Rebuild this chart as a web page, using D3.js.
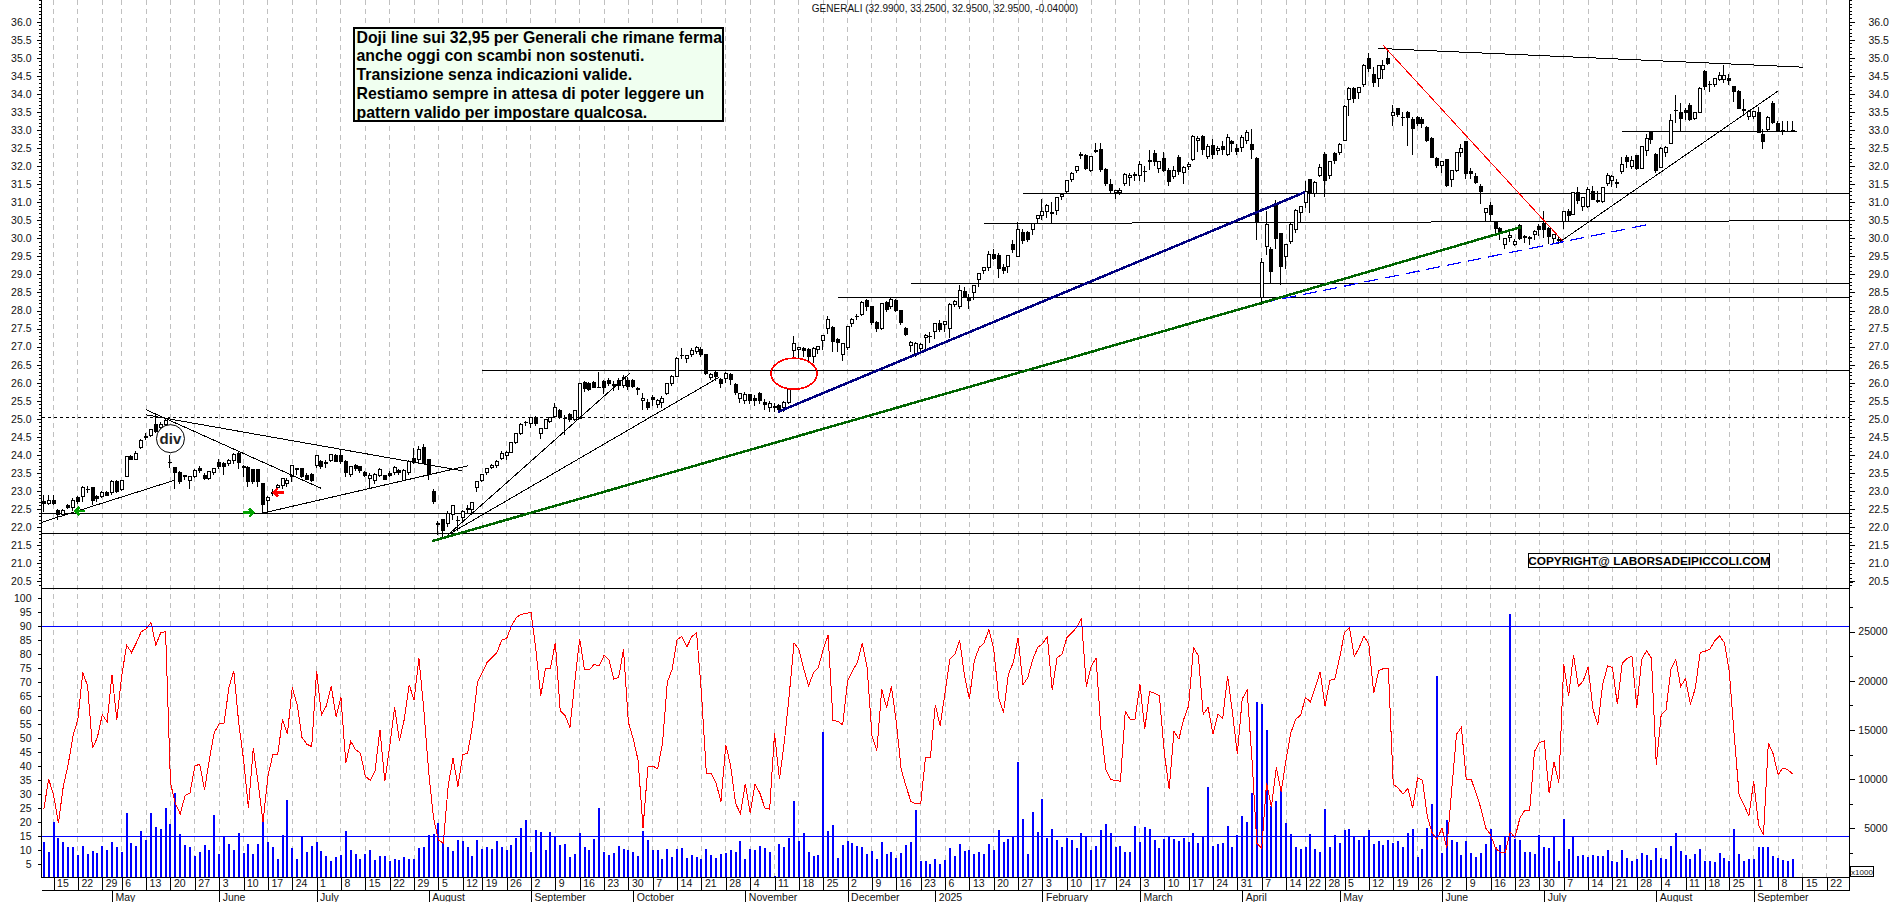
<!DOCTYPE html>
<html lang="it">
<head>
<meta charset="UTF-8">
<title>Generali</title>
<script src="https://d3js.org/d3.v7.min.js"></script>
<style>
  html, body { margin:0; padding:0; background:#fff; overflow:hidden; }
  svg { display:block; font-family:"Liberation Sans", Arial, sans-serif; }
  .axis text { font-size:10.5px; fill:#111; }
  .axis path { display:none; }
  .axis line { stroke:#000; shape-rendering:crispEdges; }
  .sharp { shape-rendering:crispEdges; }
</style>
</head>
<body>
<div id="chart"></div>
<script>
// ---- prices, one value per session
const opens = [
22.72,22.65,22.75,22.45,22.35,22.60,22.55,22.82,22.85,23.05,
23.10,22.85,22.85,22.97,22.95,23.25,23.05,23.40,23.95,23.88,
24.20,24.50,24.55,24.85,24.75,24.85,23.80,23.65,23.50,23.42,
23.30,23.40,23.63,23.43,23.35,23.52,23.78,23.77,23.77,23.84,
24.05,23.68,23.66,23.60,23.60,23.20,22.74,22.92,23.10,23.14,
23.20,23.40,23.61,23.63,23.44,23.47,23.72,23.81,23.78,23.84,
23.97,23.97,23.81,23.47,23.70,23.67,23.52,23.35,23.30,23.44,
23.43,23.49,23.52,23.58,23.30,23.52,23.90,23.86,24.21,23.86,
23.00,22.10,22.20,22.09,22.34,22.19,22.26,22.49,22.50,23.09,
23.30,23.50,23.65,23.72,23.89,23.98,24.07,24.34,24.60,24.90,
24.86,25.04,24.60,24.74,24.92,25.06,25.23,25.02,25.12,24.99,
25.01,26.00,25.98,26.01,25.88,26.03,26.07,25.95,26.07,25.91,
26.07,26.05,25.83,25.50,25.45,25.60,25.40,25.45,25.71,25.98,
26.17,26.76,26.68,26.77,26.86,26.93,26.77,26.14,26.29,26.08,
26.12,26.22,25.96,25.57,25.50,25.66,25.55,25.71,25.46,25.30,
25.35,25.38,25.30,25.45,26.90,26.92,26.95,26.93,26.72,26.92,
27.17,27.50,27.53,27.20,26.77,26.98,27.63,27.84,27.90,28.29,
28.10,27.66,27.50,28.23,28.10,28.29,27.99,27.50,27.02,26.77,
26.95,27.24,27.29,27.42,27.63,27.60,27.50,28.18,28.10,28.53,
28.35,28.50,28.85,29.10,29.19,29.54,29.51,29.18,29.22,29.82,
29.50,30.17,30.15,30.25,30.55,30.63,30.74,30.72,30.78,31.15,
31.29,31.62,31.87,32.28,32.30,31.87,32.40,32.45,31.91,31.50,
31.27,31.27,31.52,31.68,31.74,31.73,31.84,32.13,32.35,31.92,
32.21,31.87,31.71,32.24,31.83,32.00,32.19,32.72,32.81,32.26,
32.58,32.43,32.54,32.31,32.68,32.49,32.51,32.70,32.61,32.20,
28.35,29.76,29.68,30.93,30.12,29.50,29.91,30.25,30.72,30.99,
31.62,31.25,31.74,32.31,31.74,32.34,32.38,32.71,33.84,34.14,
34.05,34.25,34.99,34.53,34.43,34.67,34.99,33.40,33.60,33.36,
33.49,33.28,33.35,33.30,33.08,32.77,32.22,32.03,32.17,31.64,
31.88,32.38,32.68,31.84,31.71,31.43,30.72,30.90,30.44,30.28,
29.82,30.03,29.84,30.35,30.04,30.02,30.10,30.33,30.40,30.28,
30.00,29.97,30.46,30.74,30.67,31.26,30.89,30.89,31.29,31.04,
31.01,31.52,31.61,31.55,31.84,32.24,32.00,32.28,31.94,32.42,
32.94,32.32,31.97,32.38,32.63,33.55,33.49,33.55,33.69,33.32,
33.48,34.63,34.27,34.26,34.40,34.40,34.42,34.20,34.08,33.56,
33.37,33.37,33.49,32.88,33.02,33.74,33.18,33.00,32.97,32.99];
const highs = [
22.90,22.90,22.90,22.50,22.50,22.65,22.80,22.85,23.15,23.15,
23.12,22.90,23.00,23.00,23.30,23.30,23.30,23.95,24.00,24.10,
24.45,24.60,24.72,25.10,24.90,25.00,24.00,23.65,23.55,23.45,
23.42,23.60,23.70,23.50,23.55,23.65,23.90,23.80,23.90,24.05,
24.10,23.72,23.70,23.62,23.62,23.22,22.85,23.05,23.20,23.37,
23.35,23.70,23.65,23.65,23.50,23.50,23.97,23.85,23.85,24.02,
24.02,24.15,23.85,23.70,23.75,23.70,23.55,23.50,23.50,23.65,
23.45,23.55,23.70,23.62,23.62,23.85,24.20,24.25,24.30,23.90,
23.05,22.18,22.22,22.45,22.62,22.30,22.48,22.60,22.70,23.28,
23.48,23.65,23.75,23.85,24.10,24.10,24.36,24.62,24.88,24.95,
25.06,25.07,24.75,25.00,25.05,25.45,25.27,25.10,25.15,25.24,
25.99,26.05,26.02,26.05,26.30,26.08,26.12,26.05,26.12,26.20,
26.15,26.10,25.88,25.72,25.55,25.65,25.55,25.62,26.00,26.20,
26.70,26.95,26.78,26.95,27.02,27.00,26.80,26.26,26.32,26.12,
26.30,26.28,26.00,25.72,25.75,25.70,25.65,25.75,25.55,25.50,
25.45,25.42,25.50,25.85,27.30,27.00,27.00,26.97,26.98,27.03,
27.32,27.85,27.57,27.25,27.10,27.57,27.80,27.90,28.25,28.33,
28.12,27.70,28.20,28.26,28.36,28.32,28.02,27.55,27.15,27.12,
27.10,27.35,27.40,27.65,27.75,27.70,28.20,28.28,28.70,28.65,
28.45,28.72,29.05,29.20,29.65,29.70,29.60,29.30,29.55,29.95,
30.45,30.25,30.20,30.42,30.65,31.10,30.95,31.00,31.15,31.25,
31.62,31.85,32.00,32.40,32.33,32.28,32.65,32.65,31.95,31.65,
31.35,31.40,31.80,31.80,31.85,32.15,32.00,32.45,32.45,32.15,
32.40,31.95,32.00,32.30,32.00,32.10,32.85,32.82,32.85,32.60,
32.75,32.55,32.70,32.90,32.72,32.60,32.85,33.00,33.02,32.25,
29.45,30.75,29.75,31.05,30.15,29.85,30.42,30.80,30.90,31.60,
31.65,31.58,32.05,32.38,32.15,32.38,32.65,33.68,34.20,34.20,
34.20,34.82,35.12,34.75,34.80,34.95,35.25,33.70,33.62,33.50,
33.52,33.35,33.40,33.35,33.12,32.80,32.25,32.15,32.20,31.90,
32.40,32.60,32.70,31.95,31.80,31.50,30.85,31.00,30.48,30.32,
30.00,30.20,29.98,30.40,30.08,30.06,30.22,30.40,30.75,30.32,
30.12,30.05,30.75,30.80,31.28,31.42,31.14,31.42,31.45,31.30,
31.43,31.80,31.74,31.65,32.25,32.30,32.28,32.32,32.56,32.90,
32.96,32.35,32.52,32.55,33.45,33.98,33.75,33.60,33.75,33.50,
34.20,34.65,34.35,34.45,34.62,34.80,34.55,34.22,34.10,33.85,
33.55,33.52,33.65,33.02,33.38,33.80,33.25,33.25,33.25,33.25];
const lows = [
22.42,22.60,22.60,22.20,22.30,22.50,22.45,22.65,22.70,22.95,
22.60,22.70,22.80,22.85,22.90,22.95,23.00,23.40,23.85,23.85,
24.15,24.40,24.50,24.60,24.70,24.80,23.65,23.05,23.20,23.30,
23.05,23.35,23.50,23.30,23.30,23.45,23.60,23.45,23.70,23.75,
23.60,23.40,23.10,23.20,23.10,22.37,22.35,22.85,23.05,23.05,
23.10,23.25,23.45,23.35,23.30,23.25,23.65,23.60,23.65,23.80,
23.80,23.75,23.40,23.40,23.55,23.50,23.40,23.05,23.20,23.40,
23.30,23.40,23.45,23.45,23.28,23.45,23.75,23.75,23.75,23.30,
22.65,21.77,21.70,22.00,22.20,21.90,22.15,22.35,22.40,22.98,
23.25,23.45,23.60,23.65,23.85,23.85,24.05,24.30,24.55,24.80,
24.75,24.80,24.45,24.72,24.88,25.04,25.00,24.55,24.90,24.95,
25.00,25.75,25.78,25.85,25.85,25.70,25.90,25.78,25.80,25.85,
25.80,25.85,25.65,25.25,25.25,25.35,25.30,25.30,25.65,25.90,
26.15,26.65,26.55,26.72,26.80,26.72,26.20,26.08,26.05,25.85,
26.00,25.95,25.65,25.45,25.40,25.40,25.35,25.40,25.25,25.20,
25.20,25.20,25.20,25.40,26.70,26.65,26.70,26.60,26.55,26.80,
26.90,27.35,26.85,26.85,26.60,26.90,27.55,27.75,27.85,28.00,
27.60,27.40,27.45,27.95,28.05,27.95,27.60,27.30,26.85,26.72,
26.85,26.90,27.10,27.20,27.40,27.40,27.25,28.10,28.05,28.35,
28.05,28.30,28.65,29.00,29.10,29.40,28.90,29.00,29.05,29.60,
29.48,29.85,29.90,30.10,30.40,30.50,30.55,30.43,30.65,31.05,
31.25,31.55,31.80,32.20,31.90,31.85,32.35,31.85,31.45,31.25,
31.10,31.20,31.45,31.45,31.60,31.60,31.55,31.90,32.00,31.80,
31.85,31.45,31.65,31.75,31.50,31.90,32.15,32.40,32.30,32.20,
32.20,32.30,32.30,32.28,32.40,32.30,32.40,32.60,32.20,29.95,
28.15,29.55,28.75,29.70,28.70,29.15,29.85,30.15,30.42,30.85,
30.70,31.15,31.70,31.15,31.65,32.05,32.30,32.70,33.40,33.75,
33.85,34.20,34.60,34.20,34.18,34.40,34.80,33.10,33.35,33.10,
32.55,32.30,33.10,33.05,32.68,32.22,31.95,31.80,31.42,31.42,
31.85,32.25,31.65,31.65,31.50,30.95,30.48,30.45,30.15,29.95,
29.70,29.90,29.80,29.95,29.88,29.82,29.95,30.05,30.00,29.85,
29.88,29.85,30.25,30.48,30.64,30.95,30.75,30.85,31.05,30.98,
30.98,31.45,31.42,31.38,31.78,31.95,31.92,31.88,31.92,32.28,
32.62,31.82,31.95,32.25,32.60,33.20,32.98,33.28,33.25,33.28,
33.46,34.10,34.05,34.18,34.35,34.30,34.25,33.78,33.58,33.40,
33.28,33.30,32.92,32.48,32.95,33.18,32.95,32.85,32.95,32.95];
const closes = [
22.65,22.75,22.65,22.35,22.45,22.55,22.75,22.72,23.10,23.03,
22.75,22.78,22.95,22.88,23.25,23.00,23.30,23.95,23.88,24.05,
24.40,24.48,24.70,24.65,24.85,24.95,23.78,23.50,23.27,23.40,
23.40,23.56,23.56,23.36,23.53,23.63,23.67,23.67,23.84,24.00,
23.80,23.66,23.26,23.26,23.26,22.63,22.83,22.97,23.15,23.35,
23.28,23.70,23.59,23.40,23.33,23.30,23.97,23.67,23.77,24.00,
23.83,23.83,23.50,23.67,23.63,23.58,23.43,23.44,23.47,23.60,
23.33,23.43,23.66,23.52,23.58,23.83,23.80,24.14,23.77,23.47,
22.72,22.08,21.90,22.37,22.60,22.17,22.44,22.51,22.69,23.26,
23.46,23.63,23.72,23.82,24.05,24.07,24.34,24.60,24.85,24.91,
25.04,24.87,24.74,24.99,25.04,25.32,25.04,25.00,24.97,25.22,
25.98,25.84,25.82,25.87,25.86,25.87,25.98,25.93,25.91,26.15,
25.89,25.90,25.81,25.57,25.30,25.53,25.50,25.55,25.98,26.17,
26.68,26.74,26.74,26.90,26.97,26.77,26.26,26.23,26.17,25.98,
26.26,26.08,25.74,25.70,25.68,25.50,25.50,25.50,25.40,25.42,
25.30,25.25,25.45,25.82,27.09,26.98,26.90,26.72,26.95,27.00,
27.30,27.74,27.14,27.10,27.09,27.55,27.74,27.82,28.23,28.10,
27.66,27.50,28.20,28.03,28.31,28.00,27.66,27.34,27.12,27.09,
27.07,27.30,27.27,27.63,27.48,27.69,28.18,28.25,28.55,28.40,
28.27,28.70,29.03,29.19,29.54,29.45,29.17,29.10,29.51,29.68,
30.25,29.95,29.98,30.40,30.63,30.74,30.90,30.70,31.13,31.22,
31.59,31.80,31.98,32.32,31.94,32.26,32.44,31.91,31.52,31.32,
31.32,31.32,31.78,31.75,31.76,32.05,31.86,32.15,32.14,32.12,
31.89,31.57,31.87,31.86,31.96,32.05,32.81,32.77,32.45,32.54,
32.31,32.49,32.47,32.80,32.63,32.40,32.80,32.93,32.47,30.47,
29.34,30.39,29.08,30.00,29.22,29.82,30.39,30.77,30.88,31.31,
31.25,31.55,31.97,31.60,32.13,32.15,32.60,33.65,34.16,33.86,
34.18,34.80,34.69,34.31,34.78,34.80,34.83,33.49,33.42,33.34,
33.35,33.05,33.19,33.19,32.71,32.25,32.03,32.13,31.46,31.88,
32.38,32.50,31.80,31.80,31.55,31.30,30.83,30.67,30.28,30.14,
29.99,30.07,29.90,30.00,30.02,30.00,30.19,30.25,30.25,30.05,
30.10,29.95,30.74,30.62,31.26,31.04,31.12,31.36,31.08,31.02,
31.41,31.73,31.72,31.53,32.05,32.12,32.15,31.94,32.55,32.76,
32.74,31.87,32.49,32.51,33.27,33.53,33.32,33.49,33.30,33.48,
34.15,34.20,34.25,34.43,34.50,34.50,34.38,34.06,33.60,33.54,
33.50,33.50,32.92,32.67,33.35,33.20,32.95,32.98,32.95,32.95];

// ---- oscillator, red line of the lower panel
const oscillator = [
24.6,35.3,29.7,19.6,32.7,40.5,50.8,56.7,73.4,68.6,
46.3,50.2,58.3,55.8,72.5,56.5,72.2,83.2,80.5,84,
87.9,89,91.2,83.2,87.6,88,33.9,26.7,22.9,29.4,
30.3,39.9,40.7,31.5,42.5,52,55,55.3,68,74,
55.6,42.3,25,46.4,33.9,20,36.3,44,44,56.7,
51.4,68,62,50.2,47.8,46.9,74,58.2,61.5,68.4,
57.7,64.5,41,48.8,45.8,44.6,36.3,34.9,38.3,53,
34.5,47,61,49,56.7,69,63.6,78.4,60.3,38,
21.4,13.6,12.4,32.7,42.9,32.7,44,44.6,54.4,69.8,
73.4,77,78.7,80.5,85,85.5,90,93,94.2,94.4,
95,81.7,65,75,75,84,59.7,58,53.8,70,
85.5,74.3,74.5,76.3,75.7,79.5,78,71,71.6,81.7,
55.6,49.6,42,17.8,39.6,40,39,48,70,74.6,
85.2,86.2,82.5,86.2,87.6,66,37.5,37.5,33.9,27.3,
47.6,39.9,26.7,22.9,33.7,23.1,33.5,30.3,25,24.6,
51.7,35.3,48.4,65,84,81.7,74.6,68.6,73.4,75.2,
81.7,86.7,56.2,56,54.7,70.4,74,77,83.8,75.2,
50.8,45.5,67.4,60.9,68.4,55.6,38.7,32.7,27.3,26.5,
26.5,43.2,43.2,61.7,54.4,66.2,78.1,79.9,85,72.2,
63.9,77.5,82.3,84,88.6,81.7,64.5,59.1,72.8,76.9,
85.8,69,71.6,78.1,82.3,83.7,86.2,67.2,78.7,79.9,
85.8,87.6,89.4,92.6,68.4,75.7,78.4,53.2,38.7,35.1,
34.9,34.5,59.5,56.7,56.7,69.2,53.2,66.6,66,65,
44.9,31.7,52.4,49.6,56.7,61.5,82.3,79.3,58.5,60.9,
51.4,58.5,57.1,72.2,59.1,44.3,63.9,67.2,42.5,12.4,
10.6,33.9,25.5,39.5,30.9,42.3,52,56.7,58.2,64.5,
62.9,68,73.7,61.5,70.6,71,78.7,87.6,89.4,79,
82.3,86.4,83.5,66,74,74.8,74.9,33.5,32.1,30,
31.9,24.9,35.7,34.9,22,16,13.8,17.8,10.6,31.5,
51.4,53.8,35,35.3,30.3,24.9,17.8,15.4,10.6,9.2,
9.1,16.3,14.5,21.4,24.2,24,45.2,48.4,49,30.3,
41.4,33.9,76.3,65,79.7,68.4,70.4,75.5,60.3,54.7,
69.2,75.7,75.2,62,76.7,78.4,79.3,60.9,78.1,81.1,
78.5,40.5,58.2,60.1,74.6,78.1,68.4,71.2,62,67.7,
80.5,81,81.7,84.7,86.4,84,73.4,50.8,29.7,26.1,
22.2,34.5,19,15.4,48.2,44.3,36.9,39.3,38.7,37.1];

// ---- volume, blue bars, read on the right axis (x1000)
const volume = [
3600,2550,5600,4000,3600,3150,3090,2240,3190,2340,
2680,2440,3190,2780,3600,3090,2550,6510,3460,3190,
4750,3800,6510,5120,4880,7050,5460,8580,4410,3290,
3050,2170,2580,3260,2750,6310,2340,4170,3360,2780,
4510,2480,3390,2340,3390,6310,3600,3150,1930,4270,
7830,2950,1870,4210,2580,3190,3600,2680,2170,1660,
2040,2240,4680,2750,2340,1830,2410,2780,1770,2170,
2140,1660,1870,1730,2070,1930,1870,3020,3050,4340,
4410,5530,3600,3090,2680,3800,3700,3090,2140,3800,
2920,3150,2850,3700,3050,2820,3290,4040,5020,5830,
2550,4820,4580,2750,4580,4140,3330,3390,2110,2380,
4510,3090,2780,3900,7020,2580,2270,2440,3190,2920,
2780,2550,2170,4720,3800,2780,2780,1900,2880,2040,
2920,2950,2000,2310,2040,1900,2880,2270,1970,2380,
2480,2780,2550,3660,1830,2920,2750,3190,2950,2580,
140,3430,3050,4000,7770,3700,4510,2580,2140,2240,
14800,4750,5290,1970,3290,3700,3530,3190,3120,2380,
2680,1930,3560,2410,2550,2000,2440,3290,3600,6850,
1630,1660,1360,1870,1360,1770,2950,2140,3360,2680,
2820,2380,2550,2380,3390,2820,4780,3560,3870,4170,
11700,5940,2340,6610,4650,7970,4040,4880,3800,3090,
4040,3770,2950,4480,4210,2750,3190,4780,5390,4480,
3090,3190,2580,2580,5190,3600,5090,4880,3770,3020,
3940,4140,3940,3700,4000,3560,4480,3530,4140,9190,
3190,3360,3460,5190,3150,4340,6210,5630,8580,17800,
17600,15000,7300,7750,9220,5500,4380,3150,2850,3050,
4380,2880,2580,6950,3050,4270,3460,4820,4880,4240,
3800,4140,4820,3430,3700,3290,3800,3460,3700,3090,
4510,4920,2040,2850,4990,7460,20500,2510,5830,3800,
3600,2270,3700,2480,2110,2440,3360,4880,3050,3260,
4140,26800,3900,3800,2550,2580,2410,4310,3150,2950,
4210,1660,5940,2850,4210,2170,2270,2110,2270,2170,
2170,2780,1700,1600,2750,1970,1700,1930,2440,2270,
1770,3020,1970,1870,3190,4480,2720,2270,1930,2340,
2850,1700,1630,1560,2480,1970,1660,4920,2380,1660,
1870,1870,3090,3050,3090,2140,1970,1770,1660,1870];

// ---- time axis
const weekBars = [2,7,12,16,21,26,31,36,41,46,51,56,61,66,71,76,81,86,90,95,100,105,110,115,120,125,130,135,140,145,150,155,160,165,170,175,180,185,190,195,200,205,210,215,220,225,230,235,240,245,250,255,259,263,267,272,277,282,287,292,297,302,307,312,317,322,327,332,337,341,346,351,356,361,366];
const weekLabels = ["15","22","29","6","13","20","27","3","10","17","24","1","8","15","22","29","5","12","19","26","2","9","16","23","30","7","14","21","28","4","11","18","25","2","9","16","23","6","13","20","27","3","10","17","24","3","10","17","24","31","7","14","22","28","5","12","19","26","2","9","16","23","30","7","14","21","28","4","11","18","25","1","8","15","22"];
const monthBars = [14,36,56,79,100,121,144,165,183,205,225,246,266,287,308,331,351];
const monthLabels = ["May","June","July","August","September","October","November","December","2025","February","March","April","May","June","July","August","September"];

// ---- value axes
const priceTicks = d3.range(41).map(i => 20.5 + i * 0.5).filter(d => d <= 36);
const priceMinor = d3.range(163).map(i => 20.4 + i * 0.1);
const oscTicks = [100,95,90,85,80,75,70,65,60,55,50,45,40,35,30,25,20,15,10,5];
const volTicks = [5000,10000,15000,20000,25000];
const volMinor = [2500,7500,12500,17500,22500,27500,30000];

// ---- drawn on the picture: [bar, price, bar, price]
const trendThin = [
  [21,25.25,57,23.07],[21,25.11,85.9,23.56],[-0.5,22.13,26.9,23.30],[45,22.39,87.1,23.70],
  [83,21.79,120.3,26.26],[83,21.79,138.6,26.15],[311.3,29.91,356,34.08],[273.9,35.26,361.2,34.74]
];
const trendNavy = [[150.7,25.19,258.9,31.28]];
const trendGreen = [[79.7,21.61,250,28.21],[250,28.21,303.2,30.31]];
const trendRed = [[274.9,35.35,311.9,29.91]];
const trendBlueDash = [[250,28.21,330,30.40]];
// horizontal levels: [price, first bar, last bar]
const levels = [[22.38,-0.5,370.6],[21.83,-0.5,370.6],[26.34,90,370.6],[28.37,163,370.6],[28.75,178,370.6],[31.25,201,370.6],[32.98,324,359.8]];
const levelSlant = [[193,30.41,370.6,30.49]];
const noteLines = [
  "Doji line sui 32,95 per Generali che rimane ferma",
  "anche oggi con scambi non sostenuti.",
  "Transizione senza indicazioni valide.",
  "Restiamo sempre in attesa di poter leggere un",
  "pattern valido per impostare qualcosa."
];

const width = 1890, height = 902;
const plotLeft = 41.5, plotRight = 1849.5, panelSplit = 588.5, plotBottom = 877.5, dayRow = 890.5;

const barX = d3.scaleLinear().domain([0, 359]).range([43.8, 1792.7]);
const priceY = d3.scaleLinear().domain([36, 20.5]).range([21.7, 581.25]);
const oscY = d3.scaleLinear().domain([100, 5]).range([598, 864]);
const volY = d3.scaleLinear().domain([0, 25000]).range([877.5, 631.5]);

const svg = d3.select("#chart").append("svg").attr("width", width).attr("height", height);

// weekly grid
svg.append("g").attr("class", "sharp").selectAll("line").data(weekBars).join("line")
  .attr("x1", d => barX(d)).attr("x2", d => barX(d))
  .attr("y1", 0).attr("y2", plotBottom)
  .attr("stroke", "#c0c0c0").attr("stroke-dasharray", "5,4");

// horizontal levels
const lines = svg.append("g").attr("class", "sharp");
lines.selectAll(".level").data(levels).join("line").attr("class", "level")
  .attr("x1", d => barX(d[1])).attr("x2", d => barX(d[2]))
  .attr("y1", d => Math.round(priceY(d[0])) + 0.5).attr("y2", d => Math.round(priceY(d[0])) + 0.5)
  .attr("stroke", "#000");
lines.append("line").attr("x1", plotLeft).attr("x2", plotRight)
  .attr("y1", priceY(25.04)).attr("y2", priceY(25.04))
  .attr("stroke", "#000").attr("stroke-dasharray", "3,3");
lines.append("line").attr("x1", plotLeft).attr("x2", plotRight)
  .attr("y1", panelSplit).attr("y2", panelSplit).attr("stroke", "#000");

function drawTrends(list, color, w, dash) {
  svg.append("g").attr("class", "sharp").selectAll("line").data(list).join("line")
    .attr("x1", d => barX(d[0])).attr("y1", d => priceY(d[1]))
    .attr("x2", d => barX(d[2])).attr("y2", d => priceY(d[3]))
    .attr("stroke", color).attr("stroke-width", w)
    .attr("stroke-dasharray", dash || null);
}
drawTrends(levelSlant, "#000", 1);

// candles
const bars = d3.range(opens.length);
const candles = svg.append("g").attr("class", "sharp");
candles.selectAll(".wick").data(bars).join("line").attr("class", "wick")
  .attr("x1", i => Math.round(barX(i)) - 0.5).attr("x2", i => Math.round(barX(i)) - 0.5)
  .attr("y1", i => priceY(highs[i])).attr("y2", i => priceY(lows[i]))
  .attr("stroke", "#000");
candles.selectAll(".body").data(bars).join("rect").attr("class", "body")
  .attr("x", i => Math.round(barX(i)) - 1.5).attr("width", 3)
  .attr("y", i => priceY(Math.max(opens[i], closes[i])))
  .attr("height", i => Math.max(Math.abs(priceY(opens[i]) - priceY(closes[i])), 0.01))
  .attr("fill", i => closes[i] < opens[i] ? "#000" : "#fff")
  .attr("stroke", "#000");

drawTrends(trendThin, "#000", 1);
drawTrends(trendRed, "#f00", 1);
drawTrends(trendBlueDash, "#0000ff", 1.2, "14,7");
drawTrends(trendNavy, "#000080", 2.5);
drawTrends(trendGreen, "#006400", 2.5);

// red ellipse over the gap
svg.append("ellipse").attr("class", "sharp").attr("cx", barX(154)).attr("cy", priceY(26.25)).attr("rx", 23).attr("ry", 15.5)
  .attr("fill", "none").attr("stroke", "#f00").attr("stroke-width", 1.6);

// div marker
svg.append("circle").attr("cx", barX(26)).attr("cy", priceY(24.45)).attr("r", 14)
  .attr("fill", "#fff").attr("stroke", "#000");
svg.append("text").attr("x", barX(26)).attr("y", priceY(24.45) + 5).attr("text-anchor", "middle")
  .attr("font-size", 15).attr("font-weight", "bold").attr("fill", "#222").text("div");

// small arrows
function arrow(bar, price, dir, color) {
  const x = barX(bar), y = priceY(price), len = 10;
  svg.append("path").attr("class", "sharp")
    .attr("d", `M${x - dir * len},${y}L${x},${y}M${x - dir * 4},${y - 4}L${x},${y}L${x - dir * 4},${y + 4}`)
    .attr("fill", "none").attr("stroke", color).attr("stroke-width", 2.5);
}
arrow(6.5, 22.45, -1, "#00a000");
arrow(43, 22.4, 1, "#00a000");
arrow(47.2, 22.96, -1, "#f00");

// volume bars
svg.append("g").attr("class", "sharp").selectAll("rect").data(bars).join("rect")
  .attr("x", i => Math.round(barX(i)) - 1).attr("width", 2)
  .attr("y", i => volY(volume[i])).attr("height", i => volY(0) - volY(volume[i]))
  .attr("fill", "#0000ff");

// oscillator
const oscLine = d3.line().x((d, i) => barX(i)).y(d => oscY(d));
svg.append("path").attr("class", "sharp").attr("d", oscLine(oscillator))
  .attr("fill", "none").attr("stroke", "#f00").attr("stroke-width", 1);

// oscillator bands
svg.append("g").attr("class", "sharp").selectAll("line").data([90, 15]).join("line")
  .attr("x1", plotLeft).attr("x2", plotRight)
  .attr("y1", d => Math.round(oscY(d)) + 0.5).attr("y2", d => Math.round(oscY(d)) + 0.5)
  .attr("stroke", "#0000ff");

// axes
const fmt = d3.format(".1f");
svg.append("g").attr("class", "axis").attr("transform", `translate(${plotLeft},0)`)
  .call(d3.axisLeft(priceY).tickValues(priceMinor).tickSize(2.5).tickFormat(""));
svg.append("g").attr("class", "axis").attr("transform", `translate(${plotLeft},0)`)
  .call(d3.axisLeft(priceY).tickValues(priceTicks).tickSize(5).tickPadding(5).tickFormat(fmt));
svg.append("g").attr("class", "axis").attr("transform", `translate(${plotLeft},0)`)
  .call(d3.axisLeft(oscY).tickValues(oscTicks).tickSize(4).tickPadding(6));
svg.append("g").attr("class", "axis").attr("transform", `translate(${plotRight},0)`)
  .call(d3.axisRight(priceY).tickValues(priceMinor).tickSize(2.5).tickFormat(""));
svg.append("g").attr("class", "axis").attr("transform", `translate(${plotRight},0)`)
  .call(d3.axisRight(priceY).tickValues(priceTicks).tickSize(5).tickPadding(14).tickFormat(fmt));
svg.append("g").attr("class", "axis").attr("transform", `translate(${plotRight},0)`)
  .call(d3.axisRight(volY).tickValues(volMinor).tickSize(3).tickFormat(""));
const volAxis = svg.append("g").attr("class", "axis").attr("transform", `translate(${plotRight},0)`)
  .call(d3.axisRight(volY).tickValues(volTicks).tickSize(5).tickFormat(d3.format("d")));
volAxis.selectAll("text").attr("x", 38).attr("text-anchor", "end");

const frame = svg.append("g").attr("class", "sharp").attr("stroke", "#000");
frame.append("line").attr("x1", plotLeft).attr("x2", plotLeft).attr("y1", 0).attr("y2", plotBottom);
frame.append("line").attr("x1", plotRight).attr("x2", plotRight).attr("y1", 0).attr("y2", plotBottom + 13);
frame.append("line").attr("x1", plotLeft).attr("x2", plotRight).attr("y1", plotBottom).attr("y2", plotBottom);
frame.append("line").attr("x1", plotLeft).attr("x2", plotRight).attr("y1", dayRow).attr("y2", dayRow);

const weekAxis = svg.append("g").attr("class", "axis").attr("transform", `translate(0,${plotBottom})`)
  .call(d3.axisBottom(barX).tickValues(weekBars).tickSize(13).tickFormat((d, i) => weekLabels[i]));
weekAxis.selectAll("text").attr("x", 3).attr("y", 2).attr("dy", "0.71em").attr("text-anchor", "start");

const monthAxis = svg.append("g").attr("class", "axis").attr("transform", `translate(0,${dayRow})`)
  .call(d3.axisBottom(barX).tickValues(monthBars).tickSize(12).tickFormat((d, i) => monthLabels[i]));
monthAxis.selectAll("text").attr("x", 3).attr("y", 3).attr("dy", "0.71em").attr("text-anchor", "start");

// x1000 box
svg.append("rect").attr("class", "sharp").attr("x", 1850.5).attr("y", 866.5).attr("width", 23).attr("height", 10)
  .attr("fill", "#fff").attr("stroke", "#000");
svg.append("text").attr("x", 1862).attr("y", 874.5).attr("text-anchor", "middle")
  .attr("font-size", 8).attr("fill", "#111").text("x1000");

// title
svg.append("text").attr("x", 945).attr("y", 11.5).attr("text-anchor", "middle")
  .attr("font-size", 10).attr("fill", "#111").text("GENERALI (32.9900, 33.2500, 32.9500, 32.9500, -0.04000)");

// comment box
svg.append("rect").attr("class", "sharp").attr("x", 354).attr("y", 28).attr("width", 369).attr("height", 93)
  .attr("fill", "#f0fff0").attr("stroke", "#000").attr("stroke-width", 2);
svg.append("g").selectAll("text").data(noteLines).join("text")
  .attr("x", 356.5).attr("y", (d, i) => 42.5 + i * 18.9)
  .attr("font-size", 15.85).attr("font-weight", "bold").attr("fill", "#000").text(d => d);

// copyright box
svg.append("rect").attr("class", "sharp").attr("x", 1528.5).attr("y", 553.5).attr("width", 241).attr("height", 14)
  .attr("fill", "#fff").attr("stroke", "#000");
svg.append("text").attr("x", 1649).attr("y", 564.5).attr("text-anchor", "middle")
  .attr("font-size", 11.8).attr("font-weight", "bold").attr("fill", "#000").text("COPYRIGHT@ LABORSADEIPICCOLI.COM");
</script>
</body>
</html>
